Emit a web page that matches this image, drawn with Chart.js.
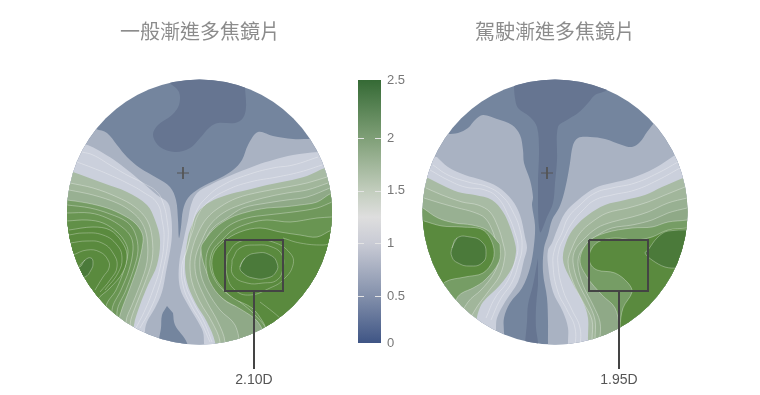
<!DOCTYPE html>
<html>
<head>
<meta charset="utf-8">
<script src="https://cdn.jsdelivr.net/npm/chart.js@4/dist/chart.umd.min.js"></script>
<style>
html,body{margin:0;padding:0;background:#fff;width:760px;height:395px;overflow:hidden}
.box{position:absolute;top:0}
</style>
</head>
<body>
<div class="box" style="left:60px;width:280px;height:395px"><canvas id="lensA"></canvas></div>
<div class="box" style="left:415px;width:280px;height:395px"><canvas id="lensB"></canvas></div>
<div class="box" style="left:345px;top:70px;width:70px;height:285px"><canvas id="bar"></canvas></div>
<script>
// titles and labels
const titleA = '一般漸進多焦鏡片';
const titleB = '駕駛漸進多焦鏡片';
const labelA = '2.10D';
const labelB = '1.95D';
// the end labels of the bar sit at its ends, slightly off their true values
const barTicks = [0.055, 0.5, 1, 1.5, 2, 2.55];
const barTickText = ['0', '0.5', '1', '1.5', '2', '2.5'];
const barValues = [0.055, 0.5, 1, 1.25, 1.5, 2, 2.55];
const barColors = ['#3f5585', '#8390ab', '#c9cbd5', '#dedede', '#c2cdbd', '#7f9f77', '#356a35'];

// band colours, low power to high power
const cDark = '#667591', cBase = '#74859e', cGrey = '#a9b2c2', cPale = '#cbd0dc';
const cSage = '#a8bba4', cMid = '#769d65', cGreen = '#5a8a3e', cDeep = '#4b7a3a';

// lens A contours (x, y from the top left of the lens frame)
const aDark = [[110,13],[119,22],[119,35],[112,45],[98,55],[93,65],[100,77],[115,82],[130,78],[140,68],[150,57],[158,53],[175,53],[183,48],[186,37],[185,17],[185,-5],[110,-5]];
const aGrey = [[25,55],[36,59],[47,63],[57,75],[67,87],[80,98],[97,108],[110,117],[116,130],[118,150],[119,168],[121,157],[123,140],[128,128],[140,118],[160,108],[173,100],[182,90],[188,75],[198,62],[213,66],[233,69],[250,69],[270,69],[295,100],[295,300],[-15,300],[-15,100]];
const aLow = [[107,236],[102,245],[101,258],[99,270],[99,290],[127,290],[127,273],[115,255],[113,243]];
const aPaleL = [[23,74],[30,76],[43,83],[57,92],[70,102],[83,113],[97,125],[108,133],[111,145],[112,160],[111,175],[106,202],[102,222],[95,238],[87,252],[85,261],[85,300],[-15,300],[-15,74]];
const aPaleR = [[295,80],[258,82],[233,85],[213,90],[197,95],[167,107],[150,115],[137,123],[131,135],[128,150],[124,168],[119,195],[120,218],[128,235],[137,250],[143,262],[144,273],[146,300],[295,300]];
const aSageL = [[13,102],[43,113],[67,122],[87,135],[95,150],[100,170],[97,195],[88,215],[80,235],[74,255],[70,300],[-15,300],[-15,102]];
const aSageR = [[295,90],[265,98],[247,106],[227,111],[207,115],[187,120],[167,125],[150,132],[138,142],[132,155],[128,167],[125,192],[127,212],[135,232],[147,252],[155,272],[158,300],[295,300]];
const aMidL = [[7,130],[27,133],[47,138],[63,145],[75,153],[82,163],[83,172],[78,195],[70,218],[60,245],[55,270],[-15,270],[-15,130]];
const aMidR = [[295,118],[272,123],[257,132],[240,135],[223,137],[207,138],[187,142],[170,148],[155,158],[145,170],[141,178],[145,198],[155,218],[167,232],[187,240],[202,250],[205,262],[210,295],[295,295]];
const aGreenL = [[9,160],[33,157],[50,160],[62,172],[67,185],[63,202],[50,218],[37,230],[35,240],[20,255],[-15,255],[-15,160]];
const aGreenR = [[295,155],[272,160],[257,167],[240,165],[220,162],[200,158],[180,162],[163,172],[153,185],[153,202],[160,215],[173,228],[192,238],[203,252],[206,260],[208,295],[295,295]];
const aDeepL = [[18,198],[25,190],[31,188],[33,193],[31,200],[25,207],[20,206],[5,205],[5,198]];
const aDeepR = [[180,197],[185,188],[197,183],[210,185],[217,193],[216,202],[207,208],[193,208],[183,203]];
// contour lines inside a band: the ones in the step lists also step the fill darker
const aLines = [
  [[22,82],[33,85],[50,95],[67,105],[83,113],[97,122],[103,133],[107,150],[108,170],[103,200],[98,220],[90,240],[80,258]],
  [[17,92],[33,98],[50,105],[67,113],[83,122],[97,133],[102,150],[104,170],[100,198],[93,220],[85,240],[76,258]],
  [[258,87],[233,95],[213,98],[187,105],[163,115],[147,127],[137,140],[132,157],[127,180],[122,195],[123,215],[131,235],[141,252],[150,272]],
  [[262,95],[240,102],[217,107],[190,112],[167,120],[148,132],[138,145],[133,160],[128,175],[124,192],[125,212],[133,232],[144,252],[152,272]],
  [[9,165],[23,163],[43,165],[57,175],[62,188],[58,203],[45,220]],
  [[10,173],[27,171],[42,173],[53,183],[57,197],[50,210],[40,222]],
  [[13,185],[27,180],[40,182],[48,190],[49,198],[43,207],[35,220]],
  [[167,185],[177,173],[193,170],[213,172],[230,183],[233,195],[223,210],[210,218],[190,225],[175,220],[167,205],[167,185]],
  [[172,190],[180,178],[197,175],[212,177],[222,185],[223,198],[217,210],[203,213],[187,213],[173,205],[172,190]],
  [[223,168],[240,173],[263,175],[272,173]],
  [[200,232],[213,242],[220,248]]
];
const aSageStepL = [
  [[10,113],[33,118],[57,127],[75,137],[87,150],[92,167],[92,190],[84,215],[76,235],[70,255]],
  [[9,120],[33,125],[57,133],[72,142],[82,153],[87,168],[87,192],[80,215],[72,235],[66,252]]
];
const aMidStepL = [
  [[7,135],[30,138],[50,144],[67,152],[75,163],[78,180],[74,198],[66,220],[57,242]],
  [[7,143],[30,143],[47,148],[62,157],[71,167],[73,180],[69,200],[61,220],[52,240]],
  [[7,151],[27,150],[43,153],[57,162],[65,172],[68,182],[64,200],[56,220],[46,237]]
];
const aSageStepR = [
  [[267,107],[247,113],[227,117],[200,122],[177,128],[160,137],[147,148],[138,163],[132,180],[130,195],[132,212],[140,232],[152,252],[160,272]],
  [[268,113],[247,120],[227,123],[203,128],[180,135],[163,143],[150,155],[142,170],[136,185],[135,198],[138,212],[147,232],[158,252],[165,272]],
  [[270,118],[247,127],[227,130],[207,133],[183,138],[167,148],[153,158],[144,173],[140,188],[141,205],[148,222],[160,240],[175,255],[180,280]]
];
const aMidStepR = [
  [[272,132],[257,138],[233,142],[207,145],[187,148],[170,155],[157,167],[148,180],[146,195],[150,212],[162,228],[182,240],[198,252],[205,270]],
  [[272,147],[257,148],[230,152],[207,150],[190,153],[173,160],[162,170],[153,180],[150,195],[155,210],[165,222],[180,232],[195,245],[207,262]]
];
const aCross = [[123,103]];
const aBox = [[165,170],[223,170],[223,221],[165,221],[165,170]];
const aLeader = [[194,221],[194,299]];

// lens B contours
const bDark = [[99,-5],[99,15],[100,28],[103,38],[115,47],[122,57],[124,80],[123,115],[125,162],[132,147],[138,133],[140,113],[142,90],[143,57],[152,50],[163,43],[173,33],[180,25],[192,19],[192,-5]];
const bDarkLow = [[123,188],[118,215],[113,235],[112,252],[110,275],[110,295],[123,295],[123,273],[121,258],[121,238],[123,215]];
const bGreyL = [[25,64],[33,64],[43,63],[53,58],[60,50],[68,45],[82,49],[97,55],[105,65],[108,80],[109,93],[115,110],[118,127],[117,135],[120,155],[119,175],[115,198],[107,218],[95,233],[89,248],[89,263],[89,295],[-15,295],[-15,64]];
const bGreyR = [[134,295],[133,273],[133,252],[132,228],[128,202],[129,178],[133,165],[137,150],[144,138],[148,127],[152,110],[155,93],[158,75],[163,68],[175,67],[190,69],[207,75],[217,77],[225,72],[232,62],[239,53],[250,40],[295,40],[295,295]];
const bPaleL = [[22,87],[33,97],[50,105],[67,110],[83,117],[97,130],[105,145],[110,167],[112,178],[109,190],[103,212],[90,232],[82,248],[81,258],[80,295],[-15,295],[-15,87]];
const bPaleR = [[260,85],[240,98],[217,108],[197,113],[180,118],[163,130],[150,143],[142,160],[137,173],[133,180],[133,195],[138,222],[148,242],[153,258],[153,275],[155,295],[295,295],[295,85]];
const bSageL = [[13,108],[27,115],[43,122],[60,125],[77,130],[88,142],[95,157],[100,173],[101,182],[97,198],[85,215],[68,232],[63,243],[55,270],[-15,270],[-15,108]];
const bSageR = [[268,108],[247,117],[230,125],[210,130],[190,135],[173,145],[160,157],[152,170],[148,190],[157,212],[168,232],[173,248],[173,270],[175,295],[295,295],[295,100]];
const bMidL = [[8,138],[23,148],[40,153],[57,155],[72,160],[83,172],[85,175],[84,192],[70,210],[58,218],[47,223],[42,228],[38,240],[-15,240],[-15,138]];
const bMidR = [[295,145],[272,150],[253,152],[237,157],[217,158],[190,163],[173,172],[165,190],[172,207],[187,225],[200,238],[204,258],[204,295],[295,295]];
const bGreenL = [[9,151],[27,156],[47,157],[68,160],[78,175],[78,190],[68,203],[50,207],[30,212],[20,225],[-15,225],[-15,151]];
const bGreenR = [[295,155],[272,158],[253,160],[237,167],[220,170],[200,168],[183,172],[175,182],[175,193],[182,200],[200,203],[213,213],[217,222],[208,238],[205,258],[205,295],[295,295]];
const bDeepL = [[37,178],[42,168],[55,167],[67,172],[71,183],[67,193],[55,196],[43,193],[37,187]];
const bDeepR = [[295,160],[253,161],[242,168],[233,180],[230,183],[237,190],[250,197],[263,198],[295,195]];
const bLines = [
  [[18,95],[33,105],[53,112],[73,117],[88,127],[98,142],[105,160],[107,178],[104,192],[97,212],[85,230],[76,250]],
  [[15,100],[33,110],[50,117],[70,120],[83,128],[93,145],[100,163],[103,178],[99,195],[92,212],[80,228],[71,248]],
  [[263,92],[243,103],[220,113],[197,118],[180,123],[165,135],[153,148],[147,163],[140,178],[138,195],[143,222],[152,240],[160,258],[160,280]],
  [[265,98],[243,110],[220,120],[197,125],[180,130],[168,140],[157,153],[149,168],[144,180],[143,195],[148,220],[157,240],[165,258],[165,280]]
];
const bSageStepL = [
  [[11,118],[27,125],[47,132],[63,135],[75,142],[83,157],[88,173],[90,185],[85,205],[73,222],[60,240],[50,262]],
  [[9,128],[25,133],[43,138],[58,142],[70,148],[78,162],[82,177],[84,190],[78,205],[66,220],[53,232],[44,252]]
];
const bSageStepR = [
  [[270,117],[250,125],[233,132],[213,138],[192,143],[177,152],[165,163],[157,178],[153,192],[158,212],[168,232],[177,250],[177,270]],
  [[272,128],[253,133],[233,142],[217,147],[197,152],[182,158],[168,170],[160,180],[158,192],[163,212],[173,232],[180,250],[180,270]],
  [[272,138],[253,143],[237,150],[217,155],[197,158],[183,165],[173,173],[165,183],[163,195],[168,215],[178,235],[185,252],[185,270]]
];
const bCross = [[132,103]];
const bBox = [[174,170],[233,170],[233,221],[174,221],[174,170]];
const bLeader = [[204,221],[204,299]];

// fills between the contour lines, lighter to darker
const sageSteps = ['#a1b69b', '#98b092', '#8fa987'];
const midSteps = ['#70985c', '#699552', '#619048'];

const xy = pts => pts.map(p => ({x: p[0], y: p[1]}));
// run past the start so a closed curve has no kink where it joins
const loop = pts => pts.concat(pts.slice(0, 2));

function band(pts, color, stroke, tension) {
  return {
    type: 'scatter', showLine: true, data: xy(pts), fill: 'shape',
    backgroundColor: color, borderColor: 'rgba(255,255,255,0.45)', borderWidth: stroke ? 0.7 : 0,
    pointRadius: 0, tension: tension || 0.35, capBezierPoints: false
  };
}
function contour(pts) {
  return {
    type: 'scatter', showLine: true, data: xy(pts), fill: false,
    borderColor: 'rgba(255,255,255,0.42)', borderWidth: 0.7,
    pointRadius: 0, tension: 0.45, capBezierPoints: false
  };
}
function mark(pts, color, width) {
  return {
    type: 'scatter', showLine: true, data: xy(pts), fill: false,
    borderColor: color, borderWidth: width, pointRadius: 0, tension: 0
  };
}
// a contour line closed round the outside of the disc, filled as the next level up
function steps(lines, colors, side) {
  return lines.map((ln, i) => {
    const a = ln[0], b = ln[ln.length - 1];
    return band(ln.concat([[b[0], 320], [side, 320], [side, a[1]]]), colors[i], true);
  });
}

// disc clip: starts before the first band, ends after the last contour
const discClip = {
  id: 'discClip',
  beforeDatasetsDraw(chart) {
    const sx = chart.scales.x, sy = chart.scales.y, o = chart.options.plugins.discClip;
    const cx = sx.getPixelForValue(o.cx), cy = sy.getPixelForValue(o.cy);
    const r = sx.getPixelForValue(o.cx + o.r) - cx;
    chart.ctx.save();
    chart.ctx.beginPath();
    chart.ctx.arc(cx, cy, r, 0, Math.PI * 2);
    chart.ctx.clip();
  },
  afterDatasetDraw(chart, args) {
    if (chart.data.datasets[args.index].lastInDisc) chart.ctx.restore();
  },
  afterDatasetsDraw(chart) {
    const o = chart.options.plugins.discClip, ctx = chart.ctx;
    const x = chart.scales.x.getPixelForValue(o.labelAt[0]);
    const y = chart.scales.y.getPixelForValue(o.labelAt[1]);
    ctx.save();
    ctx.font = '14px "Liberation Sans", Arial, sans-serif';
    ctx.fillStyle = '#555';
    ctx.textAlign = 'center';
    ctx.textBaseline = 'middle';
    ctx.fillText(o.label, x, y);
    ctx.restore();
  }
};

function lensChart(id, title, bands, lines, cross, box, leader, label, cx) {
  const inDisc = bands.concat(lines.map(contour));
  const n = inDisc.length;
  inDisc.forEach((d, i) => { d.order = n - i + 5; });
  inDisc[n - 1].lastInDisc = true;
  const c = cross[0];
  const top = [
    mark([[c[0] - 6, c[1]], [c[0] + 6, c[1]]], '#555', 1),
    mark([[c[0], c[1] - 6], [c[0], c[1] + 6]], '#555', 1),
    mark(leader, '#444', 2),
    mark(box, '#444', 2)
  ];
  top.forEach((d, i) => { d.order = 4 - i; });
  new Chart(document.getElementById(id), {
    type: 'scatter',
    data: {datasets: inDisc.concat(top)},
    options: {
      responsive: true, maintainAspectRatio: false, animation: false, events: [],
      layout: {padding: 0},
      scales: {
        x: {type: 'linear', display: false, min: 0, max: 280},
        y: {type: 'linear', display: false, min: 0, max: 325, reverse: true}
      },
      plugins: {
        legend: {display: false}, tooltip: {enabled: false},
        title: {
          display: true, text: title, color: '#8c8c8c',
          font: {family: '"Noto Sans CJK TC"', size: 20, weight: 'normal', lineHeight: 1.2},
          padding: {top: 19, bottom: 27}
        },
        discClip: {cx: cx, cy: 142, r: 132.5, label: label, labelAt: [leader[0][0], 310]}
      }
    },
    plugins: [discClip]
  });
}

lensChart('lensA', titleA, [
  band([[-15,-15],[295,-15],[295,345],[-15,345]], cBase),
  band(aDark, cDark), band(aGrey, cGrey), band(aLow, cBase),
  band(aPaleL, cPale), band(aPaleR, cPale),
  band(aSageL, cSage), ...steps(aSageStepL, sageSteps, -15),
  band(aMidL, cMid, true), ...steps(aMidStepL, midSteps, -15),
  band(aGreenL, cGreen, true),
  band(aSageR, cSage), ...steps(aSageStepR, sageSteps, 295),
  band(aMidR, cMid, true), ...steps(aMidStepR, midSteps, 295),
  band(aGreenR, cGreen, true),
  band(loop(aDeepL), cDeep, true, 0.5), band(loop(aDeepR), cDeep, true, 0.5)
], aLines, aCross, aBox, aLeader, labelA, 139.5);

lensChart('lensB', titleB, [
  band([[-15,-15],[295,-15],[295,345],[-15,345]], cBase),
  band(bGreyL, cGrey), band(bGreyR, cGrey),
  band(bDark, cDark), band(bDarkLow, cDark),
  band(bPaleL, cPale), band(bPaleR, cPale),
  band(bSageL, cSage), ...steps(bSageStepL, sageSteps, -15),
  band(bMidL, cMid, true),
  band(bGreenL, cGreen, true),
  band(bSageR, cSage), ...steps(bSageStepR, sageSteps, 295),
  band(bMidR, cMid, true),
  band(bGreenR, cGreen, true),
  band(loop(bDeepL), cDeep, true, 0.5), band(bDeepR, cDeep, true)
], bLines, bCross, bBox, bLeader, labelB, 140);

// colour bar
const barMin = barValues[0], barMax = barValues[barValues.length - 1];
const barDashes = {
  id: 'barDashes',
  afterDatasetsDraw(chart) {
    const a = chart.chartArea, ctx = chart.ctx;
    ctx.save();
    ctx.strokeStyle = '#e4e4e4';
    ctx.lineWidth = 1;
    barTicks.slice(1, -1).forEach(v => {
      const y = Math.round(chart.scales.y.getPixelForValue(v)) + 0.5;
      ctx.beginPath();
      ctx.moveTo(a.left, y); ctx.lineTo(a.left + 6, y);
      ctx.moveTo(a.right - 6, y); ctx.lineTo(a.right, y);
      ctx.stroke();
    });
    ctx.restore();
  }
};
new Chart(document.getElementById('bar'), {
  type: 'bar',
  data: {
    labels: ['D'],
    datasets: [{
      data: [[barMin, barMax]],
      barPercentage: 1, categoryPercentage: 1,
      backgroundColor(ctx) {
        const a = ctx.chart.chartArea;
        if (!a) return barColors[0];
        const g = ctx.chart.ctx.createLinearGradient(0, a.bottom, 0, a.top);
        barValues.forEach((v, i) => g.addColorStop((v - barMin) / (barMax - barMin), barColors[i]));
        return g;
      }
    }]
  },
  options: {
    responsive: true, maintainAspectRatio: false, animation: false, events: [],
    layout: {padding: {left: 13, top: 10, bottom: 12}},
    scales: {
      x: {display: false},
      y: {
        position: 'right', min: barMin, max: barMax,
        afterFit(s) { s.width = 34; },
        afterBuildTicks(s) { s.ticks = barTicks.map(v => ({value: v})); },
        grid: {display: false}, border: {display: false},
        ticks: {color: '#777', padding: -2, font: {family: '"Liberation Sans", Arial, sans-serif', size: 13},
          callback: (v, i) => barTickText[i]}
      }
    },
    plugins: {legend: {display: false}, tooltip: {enabled: false}}
  },
  plugins: [barDashes]
});
</script>
</body>
</html>
